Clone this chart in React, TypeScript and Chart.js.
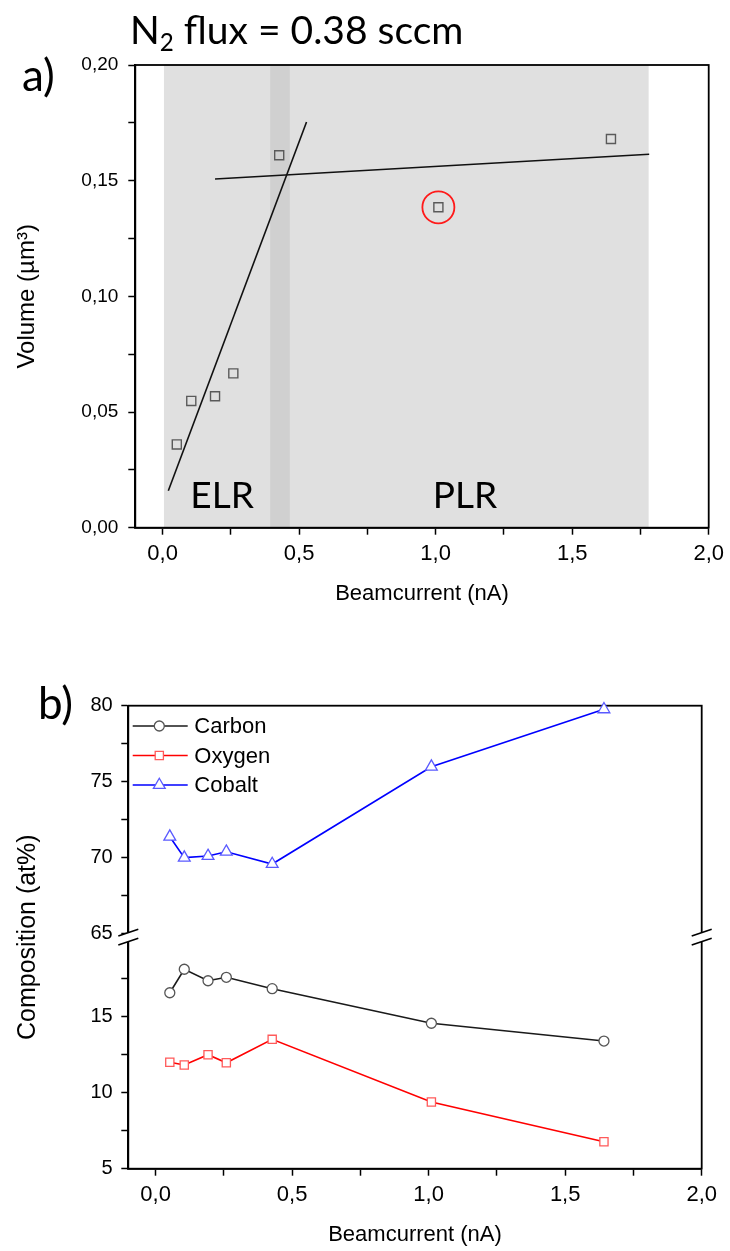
import React, { useEffect, useRef } from 'react';
import { Chart, registerables } from 'chart.js';

Chart.register(...registerables);

// ---------- data ----------
const BEAMCURRENT = [0.052, 0.105, 0.192, 0.259, 0.427, 1.01, 1.642];
const VOLUME = [0.036, 0.0548, 0.0568, 0.0667, 0.161, 0.1385, 0.168];
const FIT_ELR_X = [0.021, 0.527];
const FIT_ELR_Y = [0.016, 0.1754];
const FIT_PLR_X = [0.192, 1.782];
const FIT_PLR_Y = [0.1507, 0.1614];
const OUTLIER_X = [1.01];
const OUTLIER_Y = [0.1385];
const REGION_ALL = [0.005, 1.78];
const REGION_TRANSITION = [0.394, 0.466];
const REGION_NAMES = ['ELR', 'PLR'];

const CARBON = [16.59, 18.14, 17.38, 17.61, 16.86, 14.58, 13.41];
const OXYGEN = [12.01, 11.83, 12.51, 11.98, 13.52, 9.39, 6.78];
const COBALT = [71.37, 69.99, 70.1, 70.38, 69.57, 75.98, 79.76];
const SERIES_NAMES = ['Carbon', 'Oxygen', 'Cobalt'];

const X_TICKS = [0, 0.25, 0.5, 0.75, 1, 1.25, 1.5, 1.75, 2];
const X_LABELED = [0, 0.5, 1, 1.5, 2];
const VOL_TICKS = [0, 0.025, 0.05, 0.075, 0.1, 0.125, 0.15, 0.175, 0.2];
const VOL_LABELED = [0, 0.05, 0.1, 0.15, 0.2];
const COMP_TOP_TICKS = [65, 67.5, 70, 72.5, 75, 77.5, 80];
const COMP_TOP_LABELED = [65, 70, 75, 80];
const COMP_BOT_TICKS = [5, 7.5, 10, 12.5, 15, 17.5];
const COMP_BOT_LABELED = [5, 10, 15];

// ---------- layout / style constants ----------
const FONT = '"Liberation Sans", Arial, sans-serif';
const DISPLAY_FONT = 'Lato, "Open Sans", sans-serif';
const REGION_LABEL_X = [0.218, 1.107];
const REGION_LABEL_Y = 0.0085;

const fmt = (v: number, d: number) => v.toFixed(d).replace('.', ',');
const near = (arr: number[], v: number) => arr.some((a) => Math.abs(a - v) < 1e-9);
const pts = (xs: number[], ys: number[]) => xs.map((x, i) => ({ x, y: ys[i] }));

const gridOpts = {
  display: true,
  drawOnChartArea: false,
  drawTicks: true,
  tickLength: 7,
  tickColor: '#000',
  tickWidth: 1.5,
};
const borderOpts = { display: true, color: '#000', width: 1.8 };

function xAxis(height: number, tickPad: number, titlePadBottom: number) {
  return {
    type: 'linear',
    position: 'bottom',
    min: -0.1,
    max: 2.0,
    afterBuildTicks: (s: any) => {
      s.ticks = X_TICKS.map((v) => ({ value: v }));
    },
    afterFit: (s: any) => {
      s.height = height;
    },
    ticks: {
      autoSkip: false,
      maxRotation: 0,
      padding: tickPad,
      color: '#000',
      font: { family: FONT, size: 22 },
      callback: (v: number) => (near(X_LABELED, v) ? fmt(v, 1) : ''),
    },
    grid: gridOpts,
    border: borderOpts,
    title: {
      display: true,
      text: 'Beamcurrent (nA)',
      color: '#000',
      font: { family: FONT, size: 22 },
      padding: { top: 0, bottom: titlePadBottom },
    },
  };
}

function markerPath(ctx: CanvasRenderingContext2D, style: string, x: number, y: number, r: number) {
  ctx.beginPath();
  if (style === 'circle') {
    ctx.arc(x, y, r, 0, Math.PI * 2);
  } else if (style === 'rect') {
    const s = r * Math.SQRT1_2;
    ctx.rect(x - s, y - s, 2 * s, 2 * s);
  } else if (style === 'triangle') {
    ctx.moveTo(x, y - r);
    ctx.lineTo(x + r * 0.866, y + r * 0.5);
    ctx.lineTo(x - r * 0.866, y + r * 0.5);
    ctx.closePath();
  }
}

export default function App() {
  const refA = useRef<HTMLCanvasElement>(null);
  const refB = useRef<HTMLCanvasElement>(null);

  useEffect(() => {
    // ---------- panel a ----------
    const bandsPlugin = {
      id: 'bands',
      beforeDatasetsDraw(chart: any) {
        const { ctx, chartArea: ca } = chart;
        const x = chart.scales.x;
        const y = chart.scales.y;
        ctx.save();
        ctx.fillStyle = '#e0e0e0';
        const a0 = x.getPixelForValue(REGION_ALL[0]);
        const a1 = x.getPixelForValue(REGION_ALL[1]);
        ctx.fillRect(a0, ca.top, a1 - a0, ca.bottom - ca.top);
        ctx.fillStyle = '#d0d0d0';
        const t0 = x.getPixelForValue(REGION_TRANSITION[0]);
        const t1 = x.getPixelForValue(REGION_TRANSITION[1]);
        ctx.fillRect(t0, ca.top, t1 - t0, ca.bottom - ca.top);
        ctx.fillStyle = '#000';
        ctx.font = `37px ${DISPLAY_FONT}`;
        ctx.textAlign = 'center';
        ctx.textBaseline = 'alphabetic';
        REGION_NAMES.forEach((name, i) => {
          ctx.fillText(name, x.getPixelForValue(REGION_LABEL_X[i]), y.getPixelForValue(REGION_LABEL_Y));
        });
        ctx.strokeStyle = '#000';
        ctx.lineWidth = 1.8;
        ctx.strokeRect(ca.left, ca.top, ca.right - ca.left, ca.bottom - ca.top);
        ctx.restore();
      },
    };

    const chartA = new Chart(refA.current as HTMLCanvasElement, {
      type: 'scatter',
      data: {
        datasets: [
          {
            label: 'Volume',
            data: pts(BEAMCURRENT, VOLUME),
            pointStyle: 'rect',
            pointRadius: 6.4,
            borderColor: '#5a5a5a',
            backgroundColor: 'rgba(0,0,0,0)',
            borderWidth: 1.4,
          },
          {
            label: 'ELR fit',
            type: 'line',
            data: pts(FIT_ELR_X, FIT_ELR_Y),
            borderColor: '#111',
            borderWidth: 1.6,
            pointRadius: 0,
            showLine: true,
          },
          {
            label: 'PLR fit',
            type: 'line',
            data: pts(FIT_PLR_X, FIT_PLR_Y),
            borderColor: '#111',
            borderWidth: 1.6,
            pointRadius: 0,
            showLine: true,
          },
          {
            label: 'Outlier',
            data: pts(OUTLIER_X, OUTLIER_Y),
            pointStyle: 'circle',
            pointRadius: 16,
            borderColor: '#ff1a1a',
            backgroundColor: 'rgba(0,0,0,0)',
            borderWidth: 1.8,
          },
        ],
      } as any,
      options: {
        responsive: false,
        animation: false,
        layout: { padding: { top: 65, right: 21, bottom: 0, left: 0 } },
        plugins: { legend: { display: false }, tooltip: { enabled: false } },
        scales: {
          x: xAxis(97.3, 6, 17.8) as any,
          y: {
            type: 'linear',
            position: 'left',
            min: 0,
            max: 0.2,
            afterBuildTicks: (s: any) => {
              s.ticks = VOL_TICKS.map((v) => ({ value: v }));
            },
            afterFit: (s: any) => {
              s.width = 135.3;
            },
            ticks: {
              autoSkip: false,
              padding: 10,
              color: '#000',
              font: { family: FONT, size: 19 },
              callback: (v: number) => (near(VOL_LABELED, v) ? fmt(v, 2) : ''),
            },
            grid: gridOpts,
            border: borderOpts,
            title: {
              display: true,
              text: 'Volume (µm³)',
              color: '#000',
              font: { family: FONT, size: 24 },
              padding: { top: 13.1, bottom: 0 },
            },
          } as any,
        },
      },
      plugins: [bandsPlugin],
    });

    // ---------- panel b ----------
    const boxAndTitlePlugin = {
      id: 'boxTitle',
      beforeDatasetsDraw(chart: any) {
        const { ctx, chartArea: ca } = chart;
        ctx.save();
        ctx.strokeStyle = '#000';
        ctx.lineWidth = 1.8;
        ctx.strokeRect(ca.left, ca.top, ca.right - ca.left, ca.bottom - ca.top);
        ctx.translate(28, (ca.top + ca.bottom) / 2);
        ctx.rotate(-Math.PI / 2);
        ctx.fillStyle = '#000';
        ctx.font = `25px ${FONT}`;
        ctx.textAlign = 'center';
        ctx.textBaseline = 'middle';
        ctx.fillText('Composition (at%)', 0, 0);
        ctx.restore();
      },
    };

    const legendPlugin = {
      id: 'insideLegend',
      afterDatasetsDraw(chart: any) {
        const { ctx, chartArea: ca } = chart;
        ctx.save();
        chart.data.datasets.forEach((ds: any, i: number) => {
          const y = ca.top + 20.3 + i * 29.5;
          ctx.strokeStyle = ds.borderColor;
          ctx.lineWidth = 1.6;
          ctx.beginPath();
          ctx.moveTo(ca.left + 4.4, y);
          ctx.lineTo(ca.left + 59.4, y);
          ctx.stroke();
          markerPath(ctx, ds.pointStyle, ca.left + 31, y, ds.pointRadius);
          ctx.fillStyle = '#fff';
          ctx.fill();
          ctx.strokeStyle = ds.pointBorderColor;
          ctx.lineWidth = ds.pointBorderWidth;
          ctx.stroke();
          ctx.fillStyle = '#000';
          ctx.font = `22px ${FONT}`;
          ctx.textAlign = 'left';
          ctx.textBaseline = 'middle';
          ctx.fillText(ds.label, ca.left + 66, y + 1);
        });
        ctx.restore();
      },
    };

    const breakPlugin = {
      id: 'axisBreak',
      afterDraw(chart: any) {
        const { ctx, chartArea: ca } = chart;
        const yb = chart.scales.yTop.bottom;
        ctx.save();
        [ca.left, ca.right].forEach((x: number) => {
          const dx = 10;
          const dy = 3.4;
          const off = 4.5;
          ctx.fillStyle = '#fff';
          ctx.beginPath();
          ctx.moveTo(x - dx, yb - off + dy);
          ctx.lineTo(x + dx, yb - off - dy);
          ctx.lineTo(x + dx, yb + off - dy);
          ctx.lineTo(x - dx, yb + off + dy);
          ctx.closePath();
          ctx.fill();
          ctx.strokeStyle = '#000';
          ctx.lineWidth = 1.6;
          ctx.beginPath();
          ctx.moveTo(x - dx, yb - off + dy);
          ctx.lineTo(x + dx, yb - off - dy);
          ctx.moveTo(x - dx, yb + off + dy);
          ctx.lineTo(x + dx, yb + off - dy);
          ctx.stroke();
        });
        ctx.restore();
      },
    };

    const yCommon = (ticksArr: number[], labeled: number[]) => ({
      type: 'linear',
      position: 'left',
      stack: 'comp',
      stackWeight: 1,
      afterBuildTicks: (s: any) => {
        s.ticks = ticksArr.map((v) => ({ value: v }));
      },
      afterFit: (s: any) => {
        s.width = 128.3;
      },
      ticks: {
        autoSkip: false,
        padding: 8.6,
        color: '#000',
        font: { family: FONT, size: 20 },
        callback: (v: number) => (near(labeled, v) ? String(Math.round(v)) : ''),
      },
      grid: gridOpts,
      border: borderOpts,
    });

    const chartB = new Chart(refB.current as HTMLCanvasElement, {
      type: 'line',
      data: {
        datasets: [
          {
            label: SERIES_NAMES[0],
            data: pts(BEAMCURRENT, CARBON),
            yAxisID: 'yBot',
            borderColor: '#1a1a1a',
            borderWidth: 1.6,
            pointStyle: 'circle',
            pointRadius: 5,
            pointBorderColor: '#555',
            pointBackgroundColor: '#fff',
            pointBorderWidth: 1.3,
            tension: 0,
            clip: false,
          },
          {
            label: SERIES_NAMES[1],
            data: pts(BEAMCURRENT, OXYGEN),
            yAxisID: 'yBot',
            borderColor: '#ff0000',
            borderWidth: 1.6,
            pointStyle: 'rect',
            pointRadius: 5.8,
            pointBorderColor: '#ff5a5a',
            pointBackgroundColor: '#fff',
            pointBorderWidth: 1.3,
            tension: 0,
            clip: false,
          },
          {
            label: SERIES_NAMES[2],
            data: pts(BEAMCURRENT, COBALT),
            yAxisID: 'yTop',
            borderColor: '#0000ff',
            borderWidth: 1.6,
            pointStyle: 'triangle',
            pointRadius: 6.8,
            pointBorderColor: '#5a5aff',
            pointBackgroundColor: '#fff',
            pointBorderWidth: 1.3,
            tension: 0,
            clip: false,
          },
        ],
      } as any,
      options: {
        responsive: false,
        animation: false,
        layout: { padding: { top: 80.7, right: 28.3, bottom: 0, left: 0 } },
        plugins: { legend: { display: false }, tooltip: { enabled: false } },
        scales: {
          x: xAxis(82.3, 6.1, 2.8) as any,
          yBot: { ...yCommon(COMP_BOT_TICKS, COMP_BOT_LABELED), min: 5, max: 20.25, weight: 0 } as any,
          yTop: { ...yCommon(COMP_TOP_TICKS, COMP_TOP_LABELED), min: 64.75, max: 80, weight: 1 } as any,
        },
      },
      plugins: [boxAndTitlePlugin, legendPlugin, breakPlugin],
    });

    return () => {
      chartA.destroy();
      chartB.destroy();
    };
  }, []);

  const display: React.CSSProperties = {
    position: 'absolute',
    fontFamily: DISPLAY_FONT,
    color: '#000',
    whiteSpace: 'nowrap',
  };

  return (
    <div
      style={{
        position: 'absolute',
        left: 0,
        top: 0,
        width: 730,
        height: 1251,
        background: '#fff',
        overflow: 'hidden',
      }}
    >
      <canvas ref={refA} width={730} height={625} style={{ position: 'absolute', left: 0, top: 0 }} />
      <canvas ref={refB} width={730} height={626} style={{ position: 'absolute', left: 0, top: 625 }} />
      <div style={{ ...display, left: 130, top: 9.5, fontSize: 39, lineHeight: '39px' }}>
        N<span style={{ fontSize: '0.62em', position: 'relative', top: '0.32em' }}>2</span> flux = 0.38 sccm
      </div>
      <div style={{ ...display, left: 22, top: 52, fontSize: 44, lineHeight: '44px' }}>a)</div>
      <div style={{ ...display, left: 38, top: 680, fontSize: 44, lineHeight: '44px' }}>b)</div>
    </div>
  );
}
